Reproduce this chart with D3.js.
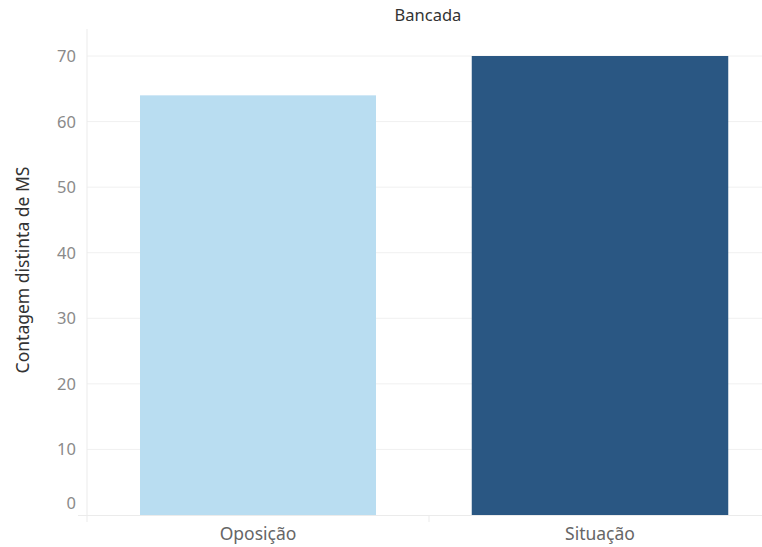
<!DOCTYPE html>
<html>
<head>
<meta charset="utf-8">
<script src="https://cdn.jsdelivr.net/npm/d3@7/dist/d3.min.js"></script>
<style>
  html, body { margin: 0; padding: 0; background: #fff; }
  svg { display: block; }
  text { font-family: "Noto Sans", "Open Sans", sans-serif; }
</style>
</head>
<body>
<div id="chart"></div>
<script>
// Distinct count of MS per bench group
const categories = ["Oposição", "Situação"];
const values = [64, 70];
const yTicks = [0, 10, 20, 30, 40, 50, 60, 70];
const colors = ["#b9ddf1", "#2a5783"];
const headerTitle = "Bancada";
const yTitle = "Contagem distinta de MS";

const W = 762, H = 547;
const pane = { left: 87, right: 771, top: 29, bottom: 515 };
// relative bar width within each band
const barFill = [0.69, 0.75];

const svg = d3.select("#chart").append("svg")
  .attr("width", W).attr("height", H);

const x = d3.scaleBand().domain(categories).range([pane.left, pane.right]).padding(0);
const y = d3.scaleLinear().domain([0, 70]).range([pane.bottom, 56]);

// horizontal gridlines
svg.append("g").selectAll("line").data(yTicks.filter(d => d > 0)).join("line")
  .attr("x1", pane.left).attr("x2", W)
  .attr("y1", d => y(d)).attr("y2", d => y(d))
  .attr("stroke", "#f0f0f0").attr("stroke-width", 1);

// bars
svg.append("g").selectAll("rect").data(categories).join("rect")
  .attr("x", (d, i) => x(d) + x.bandwidth() * (1 - barFill[i]) / 2)
  .attr("width", (d, i) => x.bandwidth() * barFill[i])
  .attr("y", (d, i) => y(values[i]))
  .attr("height", (d, i) => y(0) - y(values[i]))
  .attr("fill", (d, i) => colors[i]);

// axis frame
svg.append("line").attr("x1", pane.left).attr("x2", pane.left)
  .attr("y1", pane.top).attr("y2", pane.bottom + 7)
  .attr("stroke", "#ebebeb");
svg.append("line").attr("x1", 78).attr("x2", W)
  .attr("y1", y(0) + 0.5).attr("y2", y(0) + 0.5)
  .attr("stroke", "#ebebeb");
svg.append("line").attr("x1", x(categories[1])).attr("x2", x(categories[1]))
  .attr("y1", pane.bottom).attr("y2", pane.bottom + 7)
  .attr("stroke", "#ebebeb");

// y tick labels
svg.append("g").selectAll("text").data(yTicks).join("text")
  .attr("x", 76)
  .attr("y", d => d === 0 ? y(d) - 12 : y(d))
  .attr("dy", "0.36em")
  .attr("text-anchor", "end")
  .attr("fill", "#8a8a8a")
  .attr("font-size", 16.5)
  .text(d => d);

// category labels
svg.append("g").selectAll("text").data(categories).join("text")
  .attr("x", d => x(d) + x.bandwidth() / 2)
  .attr("y", 540)
  .attr("text-anchor", "middle")
  .attr("fill", "#666")
  .attr("font-size", 17.5)
  .text(d => d);

// column header
svg.append("text")
  .attr("x", 428)
  .attr("y", 21)
  .attr("text-anchor", "middle")
  .attr("fill", "#333")
  .attr("font-size", 16.5)
  .text(headerTitle);

// y axis title
svg.append("text")
  .attr("transform", `translate(29,${270}) rotate(-90)`)
  .attr("text-anchor", "middle")
  .attr("fill", "#333")
  .attr("font-size", 17.5)
  .text(yTitle);
</script>
</body>
</html>
